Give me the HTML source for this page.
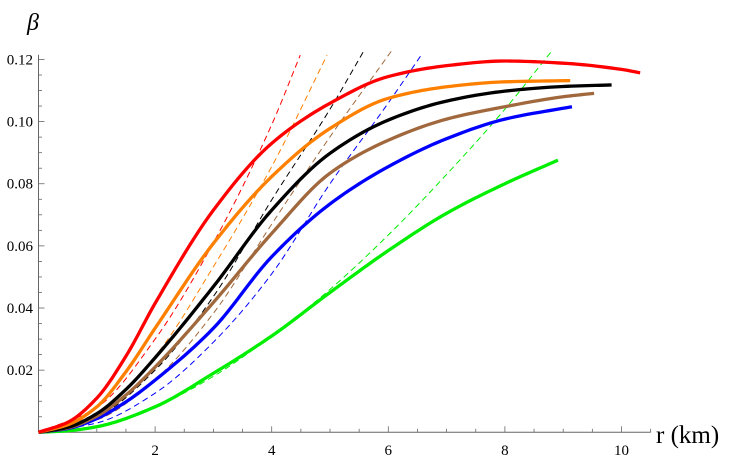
<!DOCTYPE html>
<html><head><meta charset="utf-8"><style>
body{margin:0;background:#fff}
svg{display:block;font-family:"Liberation Serif",serif}
</style></head><body>
<svg id="chart" width="747" height="460">
<g id="axes"></g>
<g id="dashed"></g>
<g id="solid"></g>
<text x="27" y="30" font-size="24" font-style="italic">β</text>
<text x="656" y="443" font-size="25">r (km)</text>
</svg>
<script>
const xTicks=[2,4,6,8,10];
const yTicks=[0.02,0.04,0.06,0.08,0.10,0.12];
const yTickLabels=["0.02","0.04","0.06","0.08","0.10","0.12"];
const redR=[0,0.5,1,1.5,2,3,4,5,6,7,8,9,10,10.32];
const redB=[0,0.0032,0.011,0.0245,0.0415,0.0715,0.093,0.1059,0.1145,0.118,0.1195,0.1188,0.1168,0.1157];
const orangeR=[0,0.5,1,1.5,2,3,4,5,6,7,8,9.12];
const orangeB=[0,0.0024,0.0082,0.0195,0.0335,0.0608,0.0823,0.0978,0.1075,0.1112,0.1128,0.1132];
const blackR=[0,0.5,1,1.5,2,3,4,5,6,7,8,9,9.83];
const blackB=[0,0.0016,0.006,0.0138,0.0240,0.0469,0.0715,0.0898,0.1005,0.1066,0.1098,0.1113,0.1118];
const brownR=[0,0.5,1,1.5,2,3,4,5,6,7,8,9,9.53];
const brownB=[0,0.0014,0.0052,0.012,0.021,0.0418,0.064,0.0834,0.094,0.1008,0.1048,0.1080,0.1091];
const blueR=[0,0.5,1,1.5,2,3,4,5,6,7,8,9.15];
const blueB=[0,0.0012,0.0044,0.0098,0.0168,0.0335,0.0565,0.0735,0.0855,0.0945,0.1008,0.1048];
const greenR=[0,0.5,1,2,3,4,5,6,7,8,8.91];
const greenB=[0,0.0005,0.0018,0.0082,0.019,0.031,0.045,0.0585,0.0705,0.080,0.0876];
const redDR=[0,1,2,3,4,4.49];
const redDB=[0,0.008,0.030,0.061,0.099,0.1214];
const orangeDR=[0,1,2,3,4,4.95];
const orangeDB=[0,0.006,0.0245,0.0533,0.0855,0.1214];
const blackDR=[0,1,2,3,4,5,5.6];
const blackDB=[0,0.005,0.020,0.0437,0.0748,0.104,0.1234];
const brownDR=[0,1,2,3,4,5,6.08];
const brownDB=[0,0.004,0.017,0.0383,0.067,0.0951,0.1234];
const blueDR=[0,1,2,3,4,5,6,6.58];
const blueDB=[0,0.003,0.0126,0.029,0.051,0.080,0.106,0.1218];
const greenDR=[0,1,2,3,4,5,6,7,8,8.79];
const greenDB=[0,0.0018,0.0082,0.018,0.031,0.046,0.0635,0.083,0.104,0.1224];

const X=r=>38.5+r*58.3;
const Y=b=>432.3-b*3107;
const NS="http://www.w3.org/2000/svg";
function mk(tag,attrs,parent){const e=document.createElementNS(NS,tag);for(const k in attrs)e.setAttribute(k,attrs[k]);parent.appendChild(e);return e;}
function path(xs,ys){
  const n=xs.length,d=[],m=new Array(n);
  for(let i=0;i<n-1;i++)d.push((ys[i+1]-ys[i])/(xs[i+1]-xs[i]));
  m[0]=d[0];m[n-1]=d[n-2];
  for(let i=1;i<n-1;i++){
    if(d[i-1]*d[i]<=0)m[i]=0;
    else{const h0=xs[i]-xs[i-1],h1=xs[i+1]-xs[i];const w1=2*h1+h0,w2=h1+2*h0;m[i]=(w1+w2)/(w1/d[i-1]+w2/d[i]);}
  }
  let s="M"+X(xs[0]).toFixed(2)+","+Y(ys[0]).toFixed(2);
  for(let i=0;i<n-1;i++){
    const h=xs[i+1]-xs[i];
    for(let k=1;k<=12;k++){
      const t=k/12,t2=t*t,t3=t2*t;
      const v=(2*t3-3*t2+1)*ys[i]+(t3-2*t2+t)*h*m[i]+(-2*t3+3*t2)*ys[i+1]+(t3-t2)*h*m[i+1];
      s+="L"+X(xs[i]+t*h).toFixed(2)+","+Y(v).toFixed(2);
    }
  }
  return s;
}
const ax=document.getElementById('axes');
let l=mk('line',{x1:X(0),y1:Y(0),x2:X(10.5),y2:Y(0),stroke:'#666','stroke-width':1},ax);


l=mk('line',{x1:X(0),y1:Y(0),x2:X(0),y2:Y(0.1215),stroke:'#666','stroke-width':1},ax);


for(let r=0.5;r<=10.5;r+=0.5){
  const major=Math.abs(r-Math.round(r/2)*2)<1e-6;
  const t=mk('line',{x1:X(r),y1:Y(0),x2:X(r),y2:Y(0)-(major?6:3.5),stroke:'#666','stroke-width':0.8},ax);
  
  
}
for(let b=0.005;b<=0.1201;b+=0.005){
  const major=Math.abs(b*50-Math.round(b*50))<1e-6;
  const t=mk('line',{x1:X(0),y1:Y(b),x2:X(0)+(major?6:3.5),y2:Y(b),stroke:'#666','stroke-width':0.8},ax);
  
  
}
xTicks.forEach(v=>{
  const t=mk('text',{x:X(v),y:455,'font-size':15,'text-anchor':'middle'},ax);t.textContent=String(v);
  
  
});
yTicks.forEach((v,i)=>{
  const t=mk('text',{x:33,y:Y(v)+5,'font-size':15,'text-anchor':'end'},ax);t.textContent=yTickLabels[i];
  
  
});
const dashed=[[redDR,redDB,'#ff0000','red'],[orangeDR,orangeDB,'#ff8000','orange'],[blackDR,blackDB,'#000','black'],[brownDR,brownDB,'#a0683c','brown'],[blueDR,blueDB,'#0000ff','blue'],[greenDR,greenDB,'#00ee00','green']];
const gd=document.getElementById('dashed');
dashed.forEach(s=>{
  const e=mk('path',{d:path(s[0],s[1]),fill:'none',stroke:s[2],'stroke-width':1,'stroke-dasharray':'6,4'},gd);
  
  
});
const solid=[[greenR,greenB,'#00ee00','green'],[blueR,blueB,'#0000ff','blue'],[brownR,brownB,'#a0683c','brown'],[blackR,blackB,'#000','black'],[orangeR,orangeB,'#ff8000','orange'],[redR,redB,'#ff0000','red']];
const gs=document.getElementById('solid');
solid.forEach(s=>{
  const e=mk('path',{d:path(s[0],s[1]),fill:'none',stroke:s[2],'stroke-width':3.3,'stroke-linejoin':'round'},gs);
  
  
});
</script>
</body></html>
